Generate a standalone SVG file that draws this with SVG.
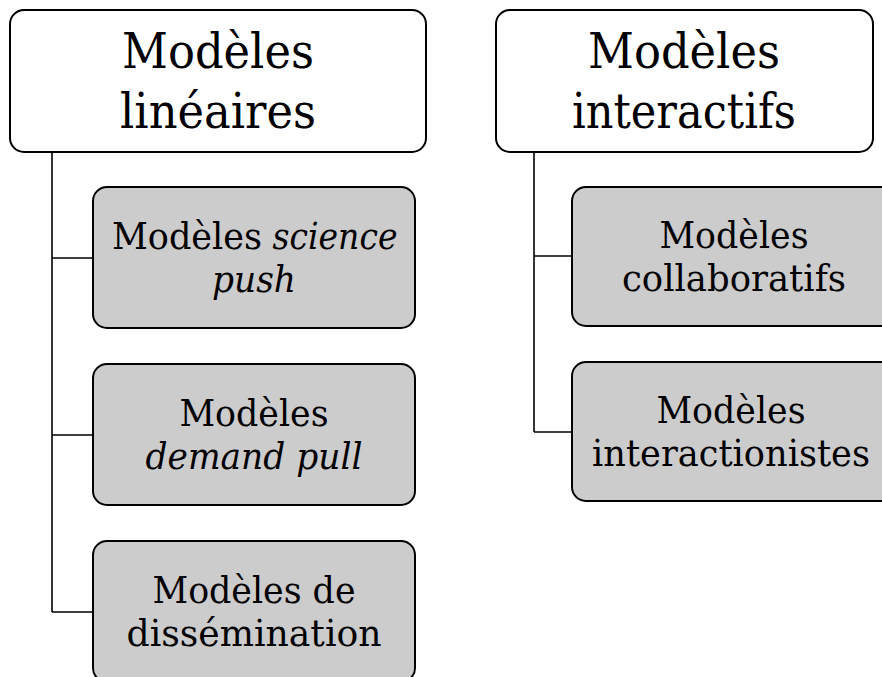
<svg xmlns="http://www.w3.org/2000/svg" width="882" height="677" viewBox="0 0 882 677">
<style>
.top{fill:#ffffff;stroke:#000;stroke-width:2}
.sub{fill:#cccccc;stroke:#000;stroke-width:2}
.conn{fill:none;stroke:#000;stroke-width:1.6}
.t1{font-family:"DejaVu Serif","Liberation Serif",serif;font-size:48px;fill:#000;text-anchor:middle}
.t2{font-family:"DejaVu Serif","Liberation Serif",serif;font-size:38px;fill:#000;text-anchor:middle}
.it{font-style:italic}
</style>
<rect width="882" height="677" fill="#ffffff"/>
<g id="connectors">
<path class="conn" d="M52,152 V612 M52,258 H93 M52,435 H93 M52,612 H93"/>
<path class="conn" d="M534,152 V432 M534,256 H572 M534,432 H572"/>
</g>
<g id="lineaires">
<rect class="top" x="10" y="10" width="416" height="142" rx="14"/>
<text class="t1" x="218" y="68" textLength="192" lengthAdjust="spacingAndGlyphs">Modèles</text>
<text class="t1" x="218" y="128" textLength="196" lengthAdjust="spacingAndGlyphs">linéaires</text>
</g>
<g id="interactifs">
<rect class="top" x="496" y="10" width="377" height="142" rx="14"/>
<text class="t1" x="684" y="68" textLength="192" lengthAdjust="spacingAndGlyphs">Modèles</text>
<text class="t1" x="684" y="128" textLength="224" lengthAdjust="spacingAndGlyphs">interactifs</text>
</g>
<g id="science-push">
<rect class="sub" x="93" y="187" width="322" height="141" rx="14"/>
<text class="t2" x="187" y="249" textLength="150" lengthAdjust="spacingAndGlyphs">Modèles</text>
<text class="t2 it" x="335" y="249" textLength="125" lengthAdjust="spacingAndGlyphs">science</text>
<text class="t2 it" x="254" y="292" textLength="84" lengthAdjust="spacingAndGlyphs">push</text>
</g>
<g id="demand-pull">
<rect class="sub" x="93" y="364" width="322" height="141" rx="14"/>
<text class="t2" x="254" y="426" textLength="149" lengthAdjust="spacingAndGlyphs">Modèles</text>
<text class="t2 it" x="254" y="469" textLength="217" lengthAdjust="spacingAndGlyphs">demand pull</text>
</g>
<g id="dissemination">
<rect class="sub" x="93" y="541" width="322" height="141" rx="14"/>
<text class="t2" x="254" y="603" textLength="203" lengthAdjust="spacingAndGlyphs">Modèles de</text>
<text class="t2" x="254" y="646" textLength="255" lengthAdjust="spacingAndGlyphs">dissémination</text>
</g>
<g id="collaboratifs">
<rect class="sub" x="572" y="187" width="324" height="139" rx="14"/>
<text class="t2" x="734" y="248" textLength="149" lengthAdjust="spacingAndGlyphs">Modèles</text>
<text class="t2" x="734" y="291" textLength="224" lengthAdjust="spacingAndGlyphs">collaboratifs</text>
</g>
<g id="interactionistes">
<rect class="sub" x="572" y="362" width="324" height="139" rx="14"/>
<text class="t2" x="731" y="423" textLength="149" lengthAdjust="spacingAndGlyphs">Modèles</text>
<text class="t2" x="731" y="466" textLength="278" lengthAdjust="spacingAndGlyphs">interactionistes</text>
</g>
</svg>
